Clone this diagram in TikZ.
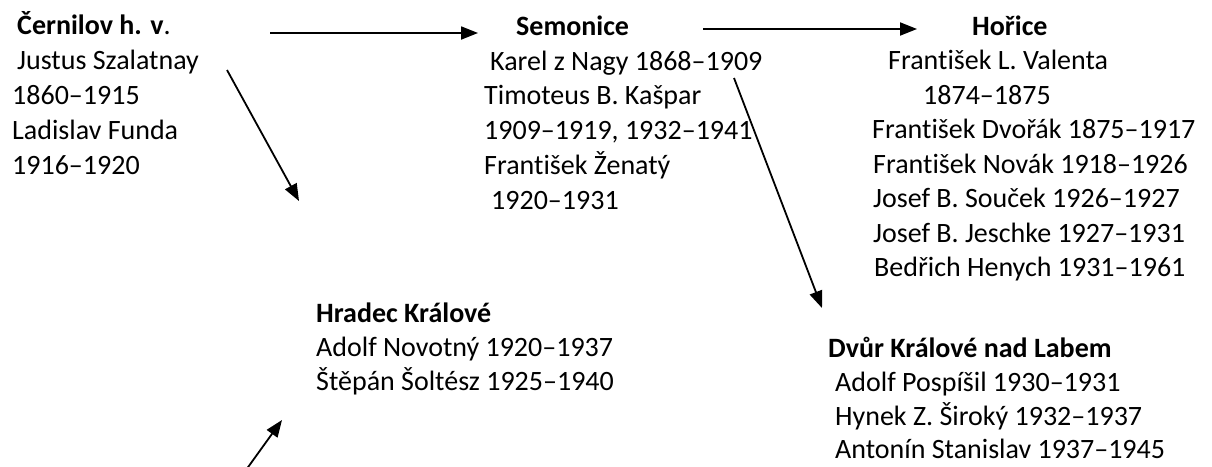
\documentclass[tikz,border=0pt]{standalone}
\usepackage{fontspec}
\setmainfont{Carlito}[Ligatures={NoCommon,NoContextual}]
\usetikzlibrary{arrows.meta}
\newcommand\myti{t\kern0pt i}
\begin{document}
\begin{tikzpicture}[x=1pt,y=-1pt,
  txt/.style={anchor=base west,inner sep=0pt,font=\fontsize{28}{34}\selectfont},
  hd/.style={txt,font=\fontsize{28}{34}\selectfont\bfseries},
  conn/.style={line width=1.8pt,-{Triangle[length=17pt,width=13pt]}}]
\useasboundingbox (0,0) rectangle (1212,466);
% Černilov
\node[hd]  (c0) at (17,34)  {Černilov h. v\textmd{.}};
\node[txt] (c1) at (17,69)  {Justus Szalatnay};
\node[txt] (c2) at (12,104) {1860–1915};
\node[txt] (c3) at (12,139) {Ladislav Funda};
\node[txt] (c4) at (12,174) {1916–1920};
% Semonice
\node[hd]  (s0) at (516,35)  {Semonice};
\node[txt] (s1) at (490,70)  {Karel z Nagy 1868–1909};
\node[txt] (s2) at (484,104) {Timoteus B. Kašpar};
\node[txt] (s3) at (484,139) {1909–1919, 1932–1941};
\node[txt] (s4) at (484,174) {Fran\myti šek Ženatý};
\node[txt] (s5) at (491,209) {1920–1931};
% Hořice
\node[hd]  (h0) at (972,35)    {Hořice};
\node[txt] (h1) at (888,69.5)  {Fran\myti šek L. Valenta};
\node[txt] (h2) at (923,104)   {1874–1875};
\node[txt] (h3) at (872,138.5) {Fran\myti šek Dvořák 1875–1917};
\node[txt] (h4) at (873,173)   {Fran\myti šek Novák 1918–1926};
\node[txt] (h5) at (873,207.5) {Josef B. Souček 1926–1927};
\node[txt] (h6) at (873,242)   {Josef B. Jeschke 1927–1931};
\node[txt] (h7) at (874,276.5) {Bedřich Henych 1931–1961};
% Hradec Králové
\node[hd]  (k0) at (316,322)   {Hradec Králové};
\node[txt] (k1) at (316,356)   {Adolf Novotný 1920–1937};
\node[txt] (k2) at (316,390)   {Štěpán Šoltész 1925–1940};
% Dvůr Králové
\node[hd]  (d0) at (828,357) {Dvůr Králové nad Labem};
\node[txt] (d1) at (835,391) {Adolf Pospíšil 1930–1931};
\node[txt] (d2) at (835,425) {Hynek Z. Široký 1932–1937};
\node[txt] (d3) at (835,458) {Antonín Stanislav 1937–1945};
% arrow end points
\coordinate (a1s) at (270,33);  \coordinate (a1e) at (478,33);
\coordinate (a2s) at (703,29);  \coordinate (a2e) at (917,29);
\coordinate (a3s) at (227,70);  \coordinate (a3e) at (299,201);
\coordinate (a4s) at (734,78);  \coordinate (a4e) at (822,308);
\coordinate (a5s) at (246,470); \coordinate (a5e) at (282,420);
\draw[conn] (a1s) -- (a1e);
\draw[conn] (a2s) -- (a2e);
\draw[conn] (a3s) -- (a3e);
\draw[conn] (a4s) -- (a4e);
\draw[conn] (a5s) -- (a5e);
\end{tikzpicture}
\end{document}
